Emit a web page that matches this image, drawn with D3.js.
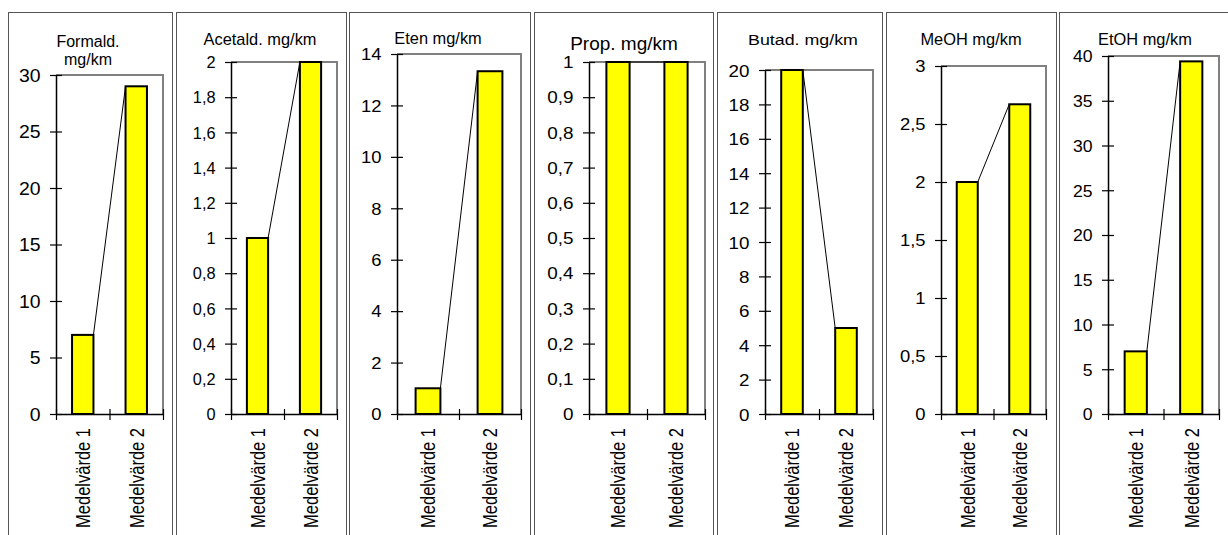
<!DOCTYPE html>
<html><head><meta charset="utf-8">
<script src="https://cdn.jsdelivr.net/npm/d3@7"></script>
<style>body{margin:0;background:#fff;} svg{display:block;font-family:"Liberation Sans",Arial,sans-serif;}</style>
</head><body><svg id="c" width="1228" height="535"></svg>
<script>
const categories = ["Medelvärde 1", "Medelvärde 2"];
const panelTitles = [["Formald.", "mg/km"], ["Acetald. mg/km"], ["Eten mg/km"], ["Prop. mg/km"], ["Butad. mg/km"], ["MeOH mg/km"], ["EtOH mg/km"]];
const formaldValues = [7, 29];
const acetaldValues = [1, 2];
const etenValues = [1, 13.33];
const propValues = [1, 1];
const butadValues = [20, 5];
const meohValues = [2, 2.67];
const etohValues = [7, 39.4];
const formaldTicks = [0, 5, 10, 15, 20, 25, 30];
const acetaldTicks = [0, 0.2, 0.4, 0.6, 0.8, 1, 1.2, 1.4, 1.6, 1.8, 2];
const etenTicks = [0, 2, 4, 6, 8, 10, 12, 14];
const propTicks = [0, 0.1, 0.2, 0.3, 0.4, 0.5, 0.6, 0.7, 0.8, 0.9, 1];
const butadTicks = [0, 2, 4, 6, 8, 10, 12, 14, 16, 18, 20];
const meohTicks = [0, 0.5, 1, 1.5, 2, 2.5, 3];
const etohTicks = [0, 5, 10, 15, 20, 25, 30, 35, 40];

const seriesValues = [formaldValues, acetaldValues, etenValues, propValues, butadValues, meohValues, etohValues];
const seriesTicks = [formaldTicks, acetaldTicks, etenTicks, propTicks, butadTicks, meohTicks, etohTicks];

// layout (positions / sizes)
const layout = [
  {fx:[8,172],    pl:56,   pt:75, pr:163,  tx:88,   ty:[47,65], tfs:16,   tsx:1,    yfs:18,   ysx:1.08},
  {fx:[176,346],  pl:231,  pt:62, pr:337,  tx:260,  ty:[45],    tfs:16.4, tsx:1,    yfs:16,   ysx:1.02},
  {fx:[349,530],  pl:397,  pt:54, pr:521,  tx:438,  ty:[44],    tfs:16.4, tsx:1,    yfs:16,   ysx:1.15},
  {fx:[534,713],  pl:589,  pt:62, pr:705,  tx:624,  ty:[50],    tfs:19,   tsx:1,    yfs:16,   ysx:1.18},
  {fx:[717,882],  pl:765,  pt:70, pr:873,  tx:803,  ty:[45],    tfs:15.5, tsx:1.15, yfs:16.8, ysx:1.12},
  {fx:[886,1056], pl:941,  pt:66, pr:1046, tx:971,  ty:[45],    tfs:16.4, tsx:1,    yfs:16,   ysx:1.15},
  {fx:[1059,1245],pl:1108, pt:56, pr:1219, tx:1145, ty:[45],    tfs:16.4, tsx:1,    yfs:16,   ysx:1.1}
];
const bottom = 414;
const svg = d3.select("#c");
const fmt = d => String(+d.toFixed(2)).replace(".", ",");

layout.forEach((L, i) => {
  const vals = seriesValues[i], ticks = seriesTicks[i];
  const g = svg.append("g");
  // panel frame
  g.append("rect").attr("x", L.fx[0] + 0.5).attr("y", 12.5)
    .attr("width", L.fx[1] - L.fx[0]).attr("height", 600)
    .attr("fill", "none").attr("stroke", "#555").attr("stroke-width", 1);

  const y = d3.scaleLinear().domain([0, d3.max(ticks)]).range([bottom, L.pt]);
  const x = d3.scaleBand().domain(categories).range([L.pl, L.pr]).paddingInner(0.6).paddingOuter(0.3);

  // plot area grey border (top + right)
  g.append("path").attr("d", `M${L.pl},${L.pt}H${L.pr}V${bottom}`)
    .attr("fill", "none").attr("stroke", "#808080").attr("stroke-width", 2);

  // bars
  g.selectAll(".bar").data(vals).join("rect")
    .attr("x", (d, j) => x(categories[j]))
    .attr("y", d => y(d))
    .attr("width", x.bandwidth())
    .attr("height", d => bottom - y(d))
    .attr("fill", "#ffff00").attr("stroke", "#000").attr("stroke-width", 2);

  // series line between bar tops
  g.append("line")
    .attr("x1", x(categories[0]) + x.bandwidth()).attr("y1", y(vals[0]))
    .attr("x2", x(categories[1])).attr("y2", y(vals[1]))
    .attr("stroke", "#000").attr("stroke-width", 1);

  // y axis
  const ya = g.append("g").attr("transform", `translate(${L.pl},0)`)
    .call(d3.axisLeft(y).tickValues(ticks).tickSizeOuter(0).tickSizeInner(6).tickFormat(fmt));
  ya.select(".domain").attr("stroke", "#000").attr("stroke-width", 1.5);
  ya.selectAll(".tick line").attr("x1", 6).attr("x2", -6).attr("stroke", "#000").attr("stroke-width", 1.2);
  ya.selectAll(".tick text")
    .attr("font-size", L.yfs).attr("font-family", "Liberation Sans, Arial, sans-serif").attr("fill", "#000")
    .attr("x", -15.5 / L.ysx).attr("dy", "0.36em")
    .attr("transform", `scale(${L.ysx},1)`);

  // x axis (boundary ticks)
  const xb = d3.scaleLinear().domain([0, 2]).range([L.pl, L.pr]);
  const xa = g.append("g").attr("transform", `translate(0,${bottom})`)
    .call(d3.axisBottom(xb).tickValues([0, 1, 2]).tickSizeOuter(0).tickFormat(""));
  xa.select(".domain").attr("stroke", "#000").attr("stroke-width", 1.5);
  xa.selectAll(".tick line").attr("y1", -5).attr("y2", 6).attr("stroke", "#000").attr("stroke-width", 1.2);

  // category labels
  const xc = g.append("g").attr("transform", `translate(0,${bottom})`)
    .call(d3.axisBottom(x).tickSize(0));
  xc.select(".domain").remove();
  xc.selectAll(".tick text")
    .attr("font-size", 16.5).attr("font-family", "Liberation Sans, Arial, sans-serif").attr("fill", "#000")
    .attr("x", 0).attr("y", 0).attr("dy", "0.36em")
    .attr("text-anchor", "end")
    .attr("transform", "translate(0,14) rotate(-90) scale(1,1.22)");

  // title
  panelTitles[i].forEach((t, k) => {
    g.append("text").attr("transform", `translate(${L.tx},${L.ty[k]}) scale(${L.tsx},1)`)
      .attr("text-anchor", "middle").attr("font-size", L.tfs).attr("fill", "#000").text(t);
  });
});
</script>
</body></html>
